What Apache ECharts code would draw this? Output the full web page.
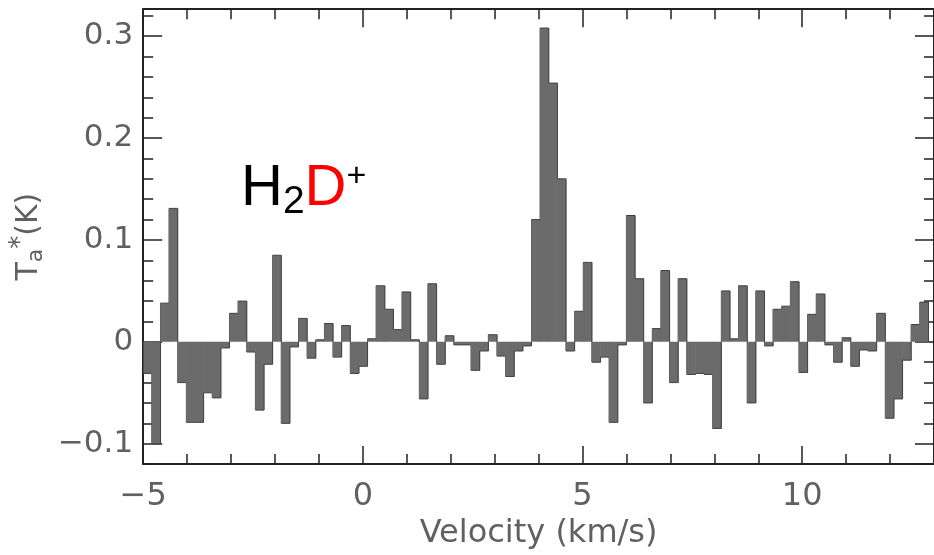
<!DOCTYPE html>
<html><head><meta charset="utf-8">
<script src="https://cdn.jsdelivr.net/npm/echarts@6/dist/echarts.min.js"></script>
<style>html,body{margin:0;padding:0;background:#fff}#c{width:934px;height:555px}</style>
</head><body><div id="c"></div>
<script>
// Spectrum channels (km/s)
const velocityStart = -4.9007;   // centre of first channel
const channelWidth = 0.1964;     // channel spacing
// Antenna temperature Ta* (K) per channel
const ta = [
 -0.031,-0.100, 0.038, 0.131,-0.040,-0.079,-0.079,-0.050,-0.055,-0.006,
  0.028, 0.040,-0.010,-0.067,-0.022, 0.085,-0.080,-0.005, 0.023,-0.016,
  0.002, 0.018,-0.015, 0.016,-0.031,-0.024, 0.003, 0.055, 0.032, 0.012,
  0.049, 0.002,-0.056, 0.057,-0.022, 0.006,-0.003,-0.003,-0.028,-0.009,
  0.007,-0.014,-0.034,-0.009,-0.004, 0.120, 0.308, 0.254, 0.160,-0.009,
  0.030, 0.078,-0.020,-0.015,-0.079,-0.003, 0.124, 0.062,-0.060, 0.013,
  0.070,-0.040, 0.062,-0.032,-0.031,-0.032,-0.085, 0.050, 0.003, 0.055,
 -0.060, 0.050,-0.004, 0.032, 0.035, 0.059,-0.030, 0.027, 0.047,-0.003,
 -0.020, 0.004,-0.024,-0.008,-0.009, 0.028,-0.075,-0.056,-0.018, 0.017,
  0.039
];
const xRange = [-5, 13];
const yRange = [-0.12, 0.3265];
const xMajor = 5, xMinor = 1, yMinor = 0.02;
const xTitle = 'Velocity (km/s)';

const velocities = ta.map((_, i) => velocityStart + i * channelWidth);
const seriesData = ta.map((v, i) => [velocities[i], v]);

const AX = '#222';
const TXT = '#606060';
const FONT = 'DejaVu Sans';

function xAx(pos, major) {
  return {
    type: 'value', position: pos, gridIndex: 0,
    min: xRange[0], max: xRange[1], interval: major ? xMajor : xMinor,
    axisLine: { show: major, onZero: false, lineStyle: { color: AX, width: 2 } },
    axisTick: { show: true, inside: true, length: major ? 18 : 10, lineStyle: { color: AX, width: 1.5 } },
    axisLabel: (major && pos === 'bottom') ? {
      show: true, showMaxLabel: false, showMinLabel: true, margin: 17,
      fontSize: 32, fontFamily: FONT, color: TXT,
      formatter: v => (v < 0 ? '\u2212' : '') + Math.abs(v)
    } : { show: false },
    splitLine: { show: false },
    name: (major && pos === 'bottom') ? xTitle : '',
    nameLocation: 'middle', nameGap: 52,
    nameTextStyle: { fontSize: 32, fontFamily: FONT, color: TXT }
  };
}
function yAx(pos, major) {
  const o = {
    type: 'value', position: pos, gridIndex: 0,
    min: yRange[0], max: yRange[1],
    axisLine: { show: major, onZero: false, lineStyle: { color: AX, width: 2 } },
    axisTick: { show: true, inside: true, length: major ? 19 : 10, lineStyle: { color: AX, width: 1.5 } },
    axisLabel: (major && pos === 'left') ? {
      show: true, showMaxLabel: false, showMinLabel: false, margin: 10,
      fontSize: 31, fontFamily: FONT, color: TXT,
      formatter: v => Math.abs(v) < 1e-9 ? '0' : (v < 0 ? '\u2212' : '') + Math.abs(v).toFixed(1)
    } : { show: false },
    splitLine: { show: false }
  };
  if (!major) o.interval = yMinor;
  if (major && pos === 'left') {
    o.name = '{t|T}{a|a}{s|*}{k|(K)}';
    o.nameLocation = 'middle';
    o.nameRotate = 90;
    o.nameGap = 78;
    o.nameTextStyle = {
      color: TXT, fontFamily: FONT,
      rich: {
        t: { fontSize: 30, fontFamily: FONT, color: TXT },
        a: { fontSize: 22, fontFamily: FONT, color: TXT, padding: [14, 0, 0, 0] },
        s: { fontSize: 26, fontFamily: FONT, color: TXT, padding: [0, 0, 16, 0] },
        k: { fontSize: 30, fontFamily: FONT, color: TXT }
      }
    };
  }
  return o;
}

const chart = echarts.init(document.getElementById('c'), null, { renderer: 'canvas' });
chart.setOption({
  animation: false,
  backgroundColor: '#fff',
  grid: { left: 136.7, top: 9.2, width: 802.9, height: 458.3, containLabel: false },
  xAxis: [xAx('bottom', true), xAx('bottom', false), xAx('top', true), xAx('top', false)],
  yAxis: [yAx('left', true), yAx('left', false), yAx('right', true), yAx('right', false)],
  series: [{
    type: 'custom', xAxisIndex: 0, yAxisIndex: 0, clip: true,
    data: seriesData,
    renderItem: function (params, api) {
      const i = params.dataIndex;
      const c = api.value(0), v = api.value(1);
      const L = api.coord([c - channelWidth / 2, v]);
      const R = api.coord([c + channelWidth / 2, 0]);
      const yv = L[1], y0 = R[1];
      const stroke = { stroke: '#404040', lineWidth: 1 };
      const children = [{
        type: 'rect',
        shape: { x: L[0] - 0.3, y: Math.min(yv, y0), width: R[0] - L[0] + 0.6, height: Math.abs(y0 - yv) },
        style: { fill: '#6b6b6b' }
      }, {
        type: 'line', shape: { x1: L[0], y1: yv, x2: R[0], y2: yv }, style: stroke
      }];
      const nextV = i + 1 < ta.length ? ta[i + 1] : 0;
      const yn = api.coord([c, nextV])[1];
      children.push({ type: 'line', shape: { x1: R[0], y1: yv, x2: R[0], y2: yn }, style: stroke });
      if (i === 0) children.push({ type: 'line', shape: { x1: L[0], y1: y0, x2: L[0], y2: yv }, style: stroke });
      return { type: 'group', children: children };
    },
    z: 1
  }],
  graphic: [{
    type: 'text', left: 241, top: 160, z: 10,
    style: {
      text: '{h|H}{s|2}{d|D}{p|+}',
      rich: {
        h: { fontSize: 58, fontFamily: 'Liberation Sans', fill: '#000' },
        s: { fontSize: 39, fontFamily: 'Liberation Sans', fill: '#000', padding: [27, 0, 0, 0] },
        d: { fontSize: 58, fontFamily: 'Liberation Sans', fill: '#ff0000' },
        p: { fontSize: 34, fontFamily: 'Liberation Sans', fill: '#000', padding: [0, 0, 24, 0] }
      }
    }
  }]
});
</script>
</body></html>
